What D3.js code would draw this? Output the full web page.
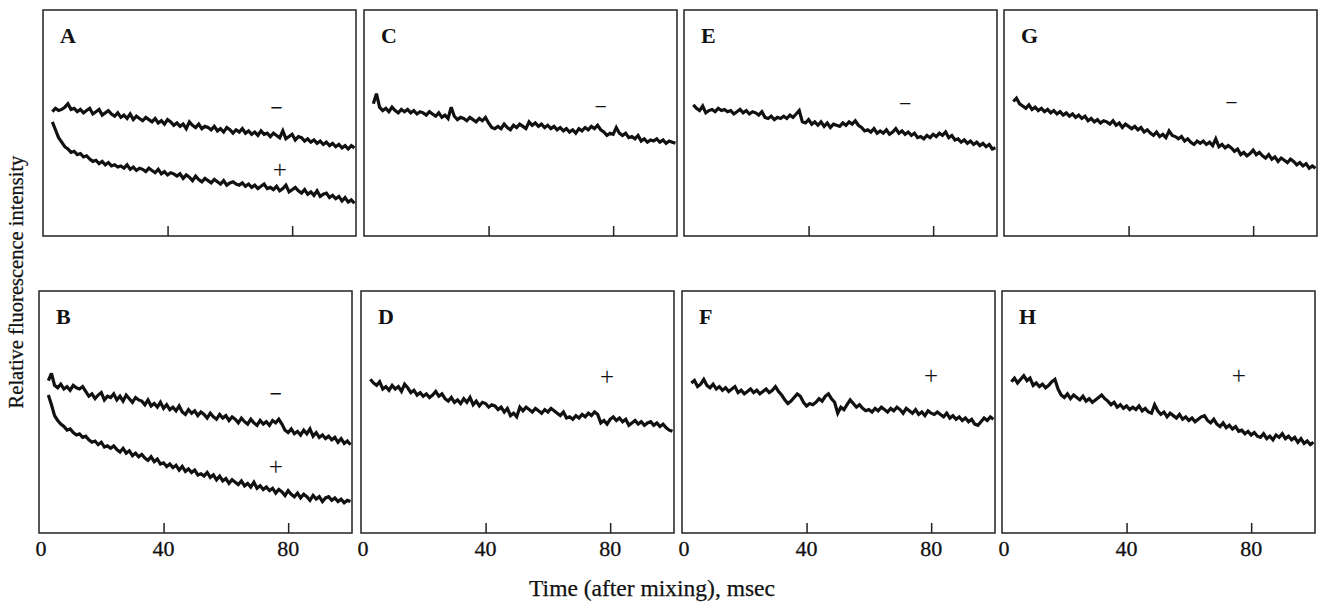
<!DOCTYPE html>
<html><head><meta charset="utf-8">
<script src="https://cdn.jsdelivr.net/npm/d3@7"></script>
<style>body{margin:0;background:#fff;}svg{display:block;}</style>
</head><body>
<svg id="chart" width="1318" height="604"></svg>
<script>
// ---- DATA ----
const panelLetters = ["A","C","E","G","B","D","F","H"];
const xTicks = [40, 80];
const xTickLabels = [0, 40, 80];
const times = [3,4,5,6,7,8,9,10,11,12,13,14,15,16,17,18,19,20,21,22,23,24,25,26,27,28,29,30,31,32,33,34,35,36,37,38,39,40,41,42,43,44,45,46,47,48,49,50,51,52,53,54,55,56,57,58,59,60,61,62,63,64,65,66,67,68,69,70,71,72,73,74,75,76,77,78,79,80,81,82,83,84,85,86,87,88,89,90,91,92,93,94,95,96,97,98,99,100];

const A_minus = [110,113,111,112,114,117,112,113,110,112, 109,111,113,108,110,112,107,109,111,108, 106,109,105,107,104,108,103,106,104,102, 105,103,101,104,100,102,99,103,101,98, 100,97,99,95,101,98,96,99,95,97, 96,94,97,93,95,92,96,94,91,94, 92,95,91,93,90,92,89,93,90,91, 88,91,89,87,93,86,88,90,85,88, 87,84,86,83,85,82,84,81,83,80, 82,79,81,78,80,77,80,78];
const A_plus = [101,94,87,83,79,77,74,75,72,73, 70,71,68,66,67,64,66,63,65,62, 63,61,62,60,63,59,61,58,60,59, 57,60,58,56,59,55,57,54,56,55, 53,55,51,54,52,49,53,50,48,51, 49,47,50,48,46,49,45,47,48,46, 45,47,44,46,43,45,42,44,46,42, 43,41,44,40,42,45,39,41,43,40, 38,41,37,39,36,40,35,37,38,34, 36,33,35,31,34,30,32,29];
const B_minus = [126,132,122,120,123,119,121,118,122,120, 119,121,117,113,115,111,114,116,110,113, 112,115,110,113,109,114,111,108,112,110, 109,106,110,105,107,104,108,103,106,102, 104,101,105,100,98,102,99,101,97,100, 98,95,99,96,94,98,95,97,93,96, 94,91,95,92,90,94,91,89,93,90, 92,89,93,91,94,90,85,83,86,82, 84,81,85,82,86,80,83,79,81,78, 80,77,79,75,78,74,76,73];
const B_plus = [114,106,97,93,90,88,85,86,83,81, 82,79,80,77,75,76,73,75,71,72, 70,72,69,67,70,66,68,64,66,63, 65,62,60,63,59,61,57,58,55,57, 54,56,52,55,51,53,50,52,48,49, 47,50,46,48,44,47,43,45,41,44, 42,40,43,39,41,38,42,37,39,36, 38,35,37,33,36,34,31,35,32,30, 33,29,32,30,27,31,28,30,26,29, 30,27,29,26,28,25,27,26];
const C_minus = [117,126,114,111,113,110,114,111,109,112, 110,112,109,111,108,110,109,107,110,108, 106,109,105,107,104,114,106,103,105,104, 102,105,103,101,104,102,105,100,96,95, 97,95,99,96,94,98,96,99,97,95, 101,98,100,97,99,96,98,95,97,94, 96,93,95,92,94,91,95,93,96,94, 97,95,98,94,92,89,91,90,96,91, 89,91,87,88,86,89,84,86,83,85, 84,86,83,85,82,84,83,82];
const D_plus = [127,124,122,125,119,121,118,122,119,121, 117,123,120,116,118,114,116,113,115,112, 114,117,113,115,111,109,112,108,110,107, 111,108,112,106,109,105,108,107,104,106, 105,102,104,100,103,97,99,96,104,101, 104,102,100,103,101,99,102,100,103,101, 99,97,100,95,96,94,97,95,98,96, 99,97,100,98,91,93,90,94,96,93, 95,92,94,89,91,93,90,92,89,91, 92,89,91,88,90,87,85,84];
const E_minus = [116,113,111,115,109,111,112,110,113,111, 112,110,111,108,110,112,109,111,108,110, 109,107,110,105,104,106,103,105,104,106, 104,107,105,108,111,101,100,103,99,101, 98,101,97,100,96,99,98,97,100,98, 101,99,102,98,96,93,94,92,95,91, 93,91,94,90,92,95,91,93,90,92, 89,91,87,88,86,89,87,90,88,91, 89,92,87,89,85,86,83,85,82,84, 81,83,80,82,79,81,77,78];
const F_plus = [124,126,121,123,127,122,120,123,119,121, 118,120,117,119,121,116,118,115,117,119, 116,118,115,117,119,116,118,121,117,114, 110,107,109,112,115,113,108,105,107,106, 108,111,109,113,115,111,108,99,104,102, 106,110,107,104,106,103,101,102,100,103, 101,104,102,100,103,101,104,102,99,103, 101,99,102,98,100,97,101,99,98,100, 98,96,99,95,97,94,96,93,95,92, 94,90,89,92,95,93,96,94];
const G_minus = [119,122,117,115,113,116,112,114,111,113, 110,112,109,111,108,110,107,109,106,108, 105,107,104,106,102,104,101,103,100,102, 101,99,102,98,100,96,99,97,95,97, 94,96,92,94,91,89,92,88,90,87, 93,89,88,86,88,84,86,83,81,84, 82,84,81,83,80,86,79,81,78,80, 78,75,77,72,74,71,73,76,72,74, 71,69,72,68,70,66,69,67,65,68, 66,63,65,62,64,60,62,60];
const H_plus = [125,128,124,127,130,126,128,122,124,121, 123,120,122,125,127,119,114,112,115,111, 114,112,110,113,109,111,108,110,112,114, 111,109,106,108,104,106,103,105,102,104, 102,105,101,103,100,99,106,101,98,100, 96,99,97,95,98,94,96,93,95,92, 94,96,97,93,91,94,90,88,91,87, 89,86,88,84,85,82,84,81,83,80, 79,82,78,80,77,81,79,82,78,80, 77,79,75,78,74,76,73,75];

// sign labels and their (time, intensity) anchor
const signTexts = {A:[["\u2212",75,114],["+",76,59]], B:[["\u2212",76,115],["+",76,55]],
  C:[["\u2212",76,115],], D:[["+",79,129]], E:[["\u2212",71,117]], F:[["+",80,130]], G:[["\u2212",73,118]], H:[["+",76,130]]};
const seriesByPanel = {A:[A_minus,A_plus], B:[B_minus,B_plus], C:[C_minus], D:[D_plus], E:[E_minus], F:[F_plus], G:[G_minus], H:[H_plus]};

// ---- LAYOUT ----
const svg = d3.select("#chart");
const rows = [{top:10, bottom:236, lefts:[43,364,684,1004]}, {top:291, bottom:533, lefts:[39,361,682,1002]}];
const boxW = 313;
const serif = "'Liberation Serif','Times New Roman',serif";

panelLetters.forEach((letter, i) => {
  const r = rows[Math.floor(i/4)], c = i % 4;
  const left = r.lefts[c];
  const x = d3.scaleLinear().domain([0, 100.5]).range([left, left + boxW]);
  const y = d3.scaleLinear().domain([0, 200]).range([r.bottom, r.top]);
  const g = svg.append("g");
  g.append("rect").attr("x", left).attr("y", r.top).attr("width", boxW).attr("height", r.bottom - r.top)
    .attr("fill", "none").attr("stroke", "#222").attr("stroke-width", 1.5);
  const ax = d3.axisBottom(x).tickValues(xTicks).tickSize(-10).tickFormat("");
  const axG = g.append("g").attr("transform", `translate(0,${r.bottom})`).call(ax);
  axG.select(".domain").remove();
  axG.selectAll("line").attr("stroke", "#222").attr("stroke-width", 1.5);
  if (Math.floor(i/4) === 1) {
    g.selectAll("text.tl").data(xTickLabels).enter().append("text")
      .attr("x", d => x(d) + (d === 0 ? 2 : 0)).attr("y", 556).attr("text-anchor", "middle")
      .attr("font-family", serif).attr("font-size", 22).attr("stroke", "#111").attr("stroke-width", 0.3)
      .attr("fill", "#111").text(d => d);
  }
  g.append("text").attr("x", left + 17).attr("y", r.top + 33).attr("font-family", serif)
    .attr("font-weight", "bold").attr("font-size", 22).attr("fill", "#111").text(letter);
  const line = d3.line().x((d, k) => x(times[k])).y(d => y(d));
  seriesByPanel[letter].forEach(s => {
    g.append("path").datum(s).attr("d", line).attr("fill", "none").attr("stroke", "#111")
      .attr("stroke-width", 3.2).attr("stroke-linejoin", "miter").attr("stroke-miterlimit", 3);
  });
  signTexts[letter].forEach(([t, tx, ty]) => {
    const thick = (letter === "A" || letter === "B") && t !== "+";
    g.append("text").attr("x", x(tx)).attr("y", y(ty)).attr("text-anchor", "middle")
      .attr("dominant-baseline", "central").attr("font-family", serif)
      .attr("font-weight", thick ? "bold" : "normal")
      .attr("font-size", t === "+" ? 25 : 22).attr("fill", "#111").text(t);
  });
});

svg.append("text").attr("transform", "translate(23,282) rotate(-90)").attr("text-anchor", "middle")
  .attr("font-family", serif).attr("font-size", 20.5).attr("stroke", "#111").attr("stroke-width", 0.25)
  .attr("fill", "#111").text("Relative fluorescence intensity");
svg.append("text").attr("x", 652).attr("y", 596).attr("text-anchor", "middle")
  .attr("font-family", serif).attr("font-size", 23.5).attr("stroke", "#111").attr("stroke-width", 0.25)
  .attr("fill", "#111").text("Time (after mixing), msec");
</script>
</body></html>
